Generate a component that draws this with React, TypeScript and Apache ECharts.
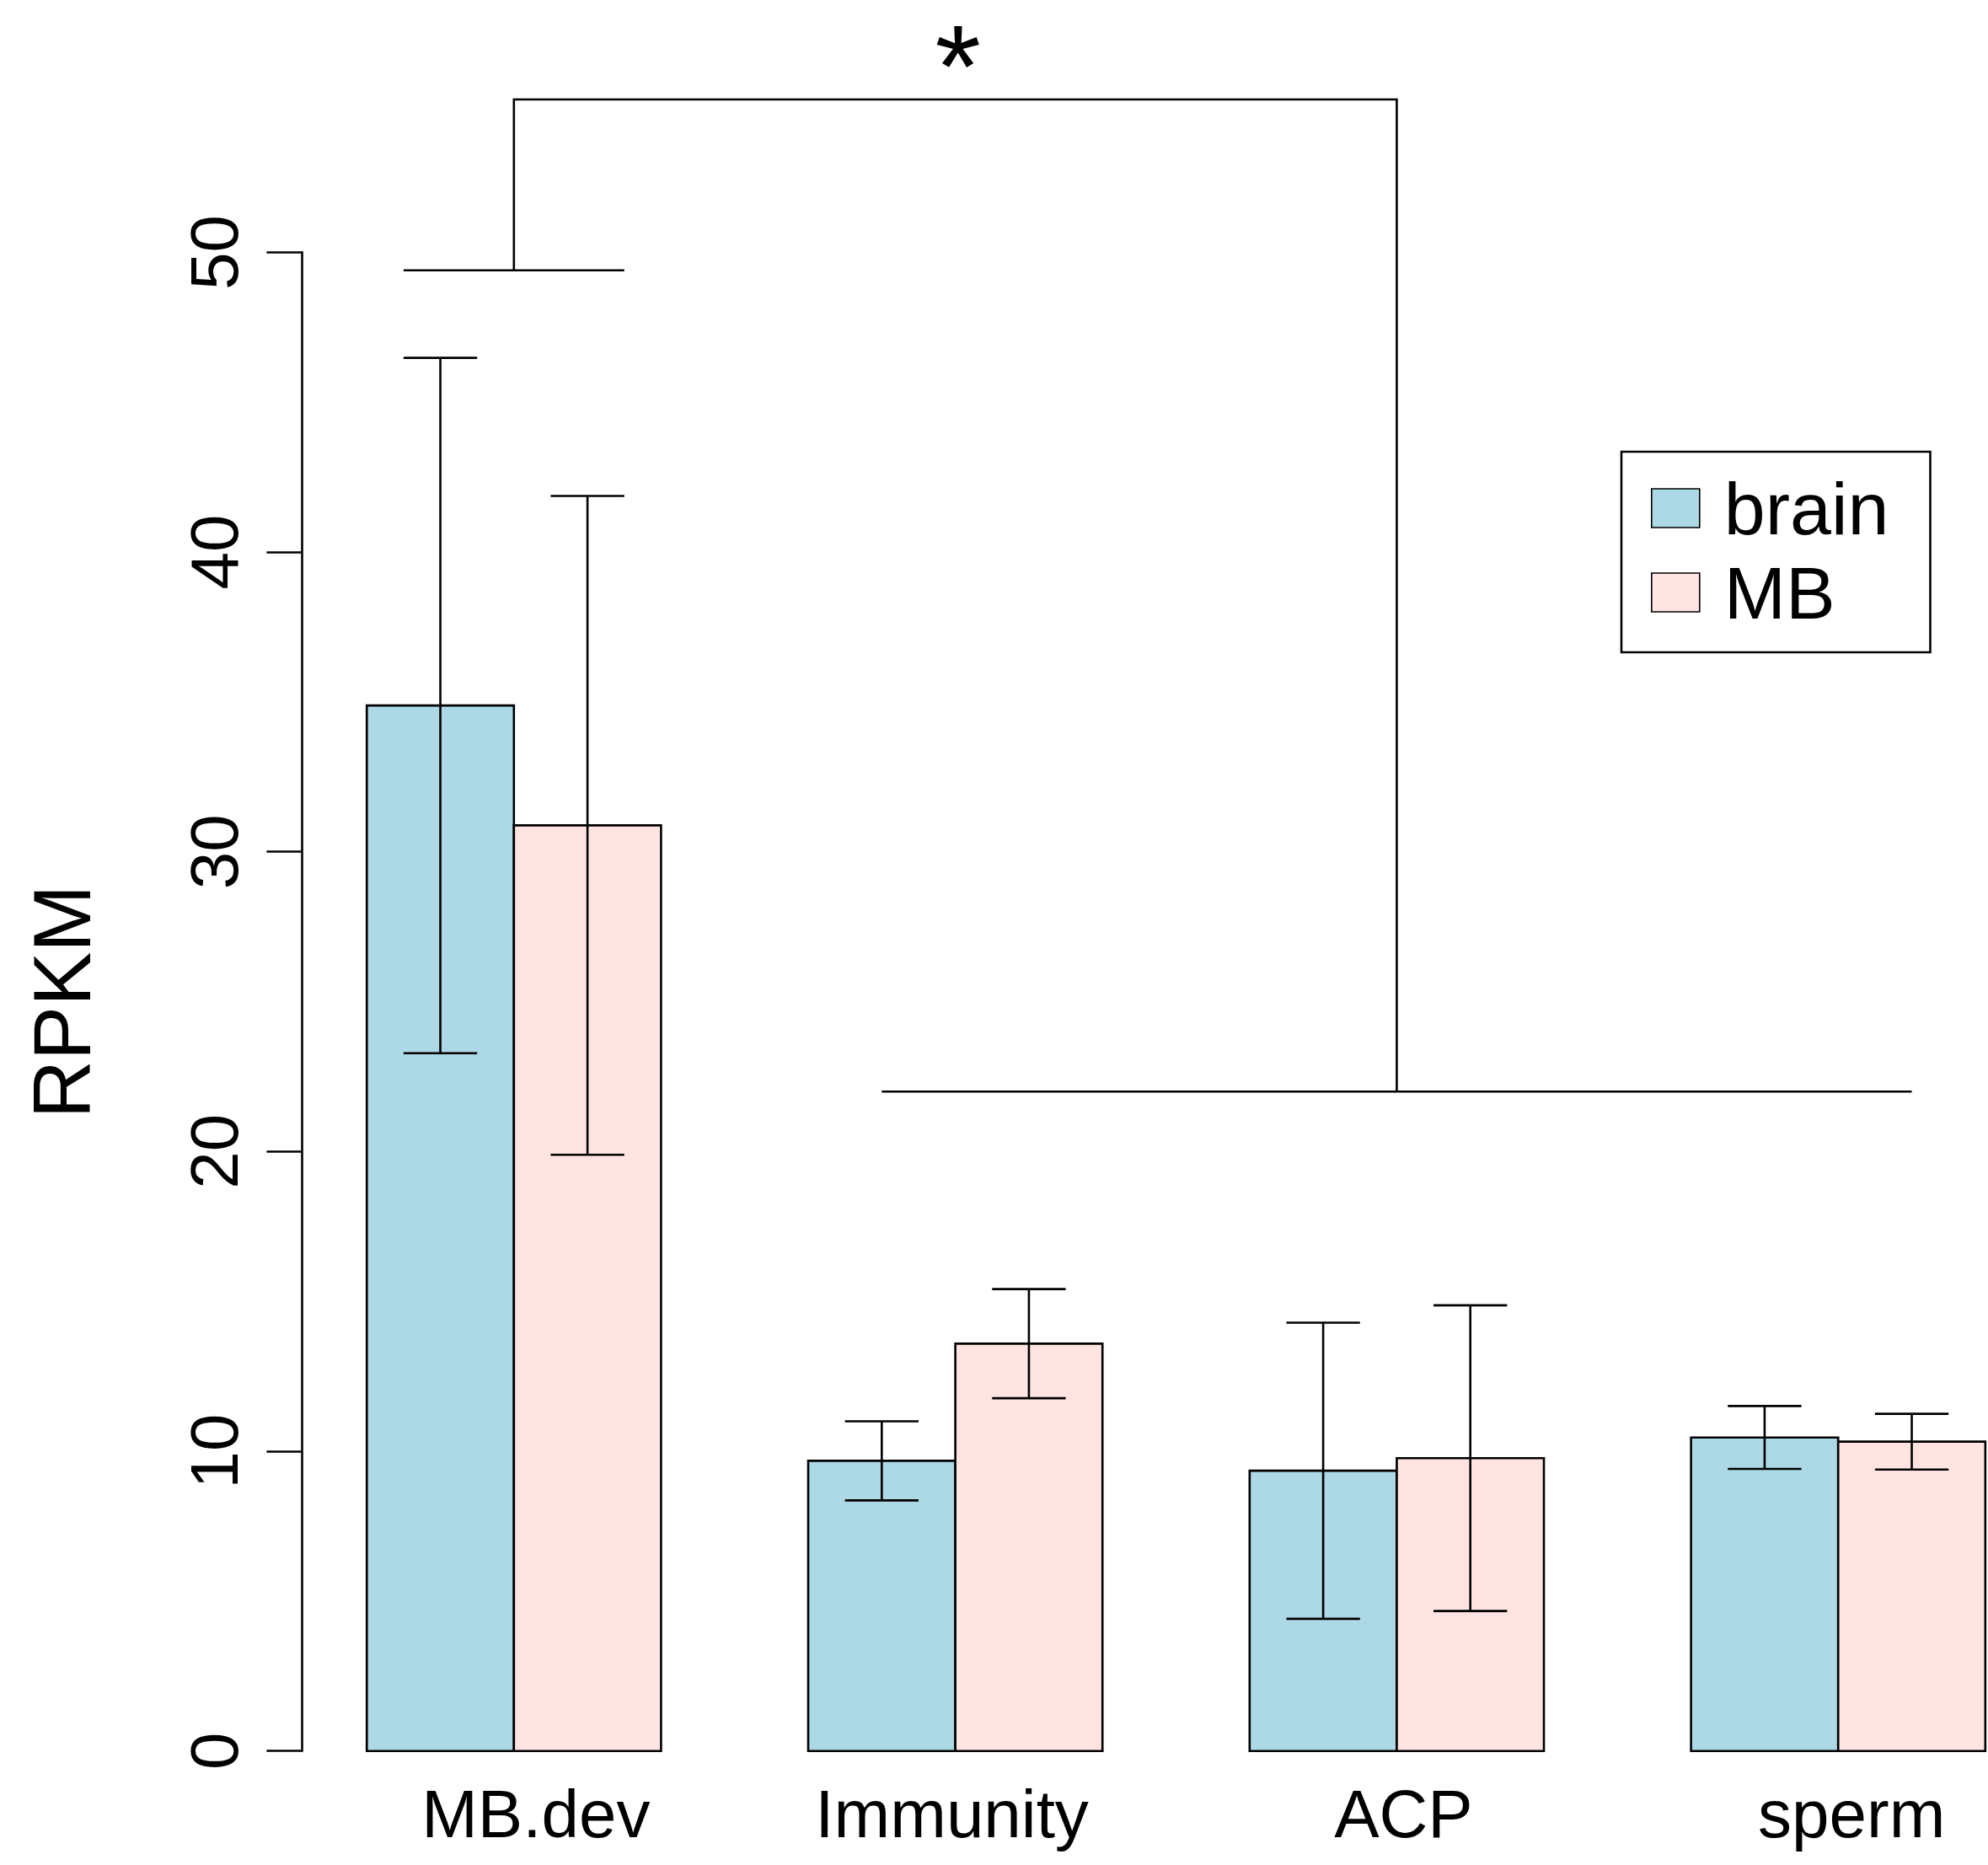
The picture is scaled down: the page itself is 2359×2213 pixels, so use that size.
import React, { useEffect, useRef } from "react";
import * as echarts from "echarts";

// ---- data -------------------------------------------------------------
const groups = ["MB.dev", "Immunity", "ACP", "sperm"];
const tissues = ["brain", "MB"];
const brainMean = [34.88, 9.68, 9.35, 10.46];
const brainErr = [11.6, 1.32, 4.94, 1.05];
const mbMean = [30.88, 13.59, 9.77, 10.32];
const mbErr = [10.99, 1.82, 5.1, 0.93];
const yTicks = [0, 10, 20, 30, 40, 50];
// significance bracket: levels of the two group bars and the joining bar
const bracketLevelA = 49.4;
const bracketLevelB = 22;
const bracketTop = 55.1;
const sigText = "*";

// ---- look ---------------------------------------------------------------
const FONT = "'Liberation Sans', Arial, Helvetica, sans-serif";
const BRAIN = "#ADD8E6"; // lightblue
const MB = "#FFE4E1"; // mistyrose
const LW = 2.6;
// small horizontal nudges (px) of the group names under the bars
const nameNudge = [26, -4, 8, 16];

// barplot layout: unit-width bars, pairs side by side, one unit between groups
const nBars = tissues.length;
const step = nBars + 1;
const barCenter = (g: number, i: number) => 1 + step * g + i + 0.5;
const groupCenter = (g: number) => 1 + step * g + nBars / 2;
const xLo = 1;
const xHi = 1 + step * (groups.length - 1) + nBars;
const pad = 0.04 * (xHi - xLo);
const CAP = 0.25;

function barSeries(name: string, color: string, mean: number[], err: number[], idx: number) {
  return {
    type: "custom",
    name,
    itemStyle: { color },
    clip: false,
    data: mean.map((m, g) => [barCenter(g, idx), m, err[g]]),
    encode: { x: 0, y: 1 },
    renderItem: (_p: any, api: any) => {
      const x = api.value(0);
      const m = api.value(1);
      const e = api.value(2);
      const tl = api.coord([x - 0.5, m]);
      const br = api.coord([x + 0.5, 0]);
      const hi = api.coord([x, m + e]);
      const lo = api.coord([x, m - e]);
      const cl = api.coord([x - CAP, 0])[0];
      const cr = api.coord([x + CAP, 0])[0];
      const ln = { stroke: "#000", lineWidth: LW };
      return {
        type: "group",
        children: [
          {
            type: "rect",
            shape: { x: tl[0], y: tl[1], width: br[0] - tl[0], height: br[1] - tl[1] },
            style: { fill: color, stroke: "#000", lineWidth: LW },
          },
          { type: "line", shape: { x1: hi[0], y1: hi[1], x2: lo[0], y2: lo[1] }, style: ln },
          { type: "line", shape: { x1: cl, y1: hi[1], x2: cr, y2: hi[1] }, style: ln },
          { type: "line", shape: { x1: cl, y1: lo[1], x2: cr, y2: lo[1] }, style: ln },
        ],
      };
    },
  };
}

// bracket comparing MB.dev against the other three groups
const bracketSeries = {
  type: "custom",
  name: "bracket",
  clip: false,
  silent: true,
  data: [[groupCenter(0), bracketTop]],
  encode: { x: 0, y: 1 },
  renderItem: (_p: any, api: any) => {
    const ln = { stroke: "#000", lineWidth: LW, fill: null };
    const aL = api.coord([barCenter(0, 0) - CAP, bracketLevelA]);
    const aR = api.coord([barCenter(0, nBars - 1) + CAP, bracketLevelA]);
    const aStem = api.coord([groupCenter(0), bracketLevelA]);
    const bL = api.coord([barCenter(1, 0), bracketLevelB]);
    const bR = api.coord([barCenter(groups.length - 1, nBars - 1), bracketLevelB]);
    const stemB = (groupCenter(1) + groupCenter(groups.length - 1)) / 2;
    const bStem = api.coord([stemB, bracketLevelB]);
    const tA = api.coord([groupCenter(0), bracketTop]);
    const tB = api.coord([stemB, bracketTop]);
    const mid = api.coord([(groupCenter(0) + stemB) / 2, bracketTop]);
    return {
      type: "group",
      children: [
        { type: "line", shape: { x1: aL[0], y1: aL[1], x2: aR[0], y2: aR[1] }, style: ln },
        { type: "line", shape: { x1: bL[0], y1: bL[1], x2: bR[0], y2: bR[1] }, style: ln },
        {
          type: "polyline",
          shape: { points: [aStem, tA, tB, bStem] },
          style: ln,
        },
        {
          type: "text",
          x: mid[0] + 3,
          y: mid[1] - 40,
          style: {
            text: sigText,
            fontSize: 140,
            fontFamily: FONT,
            fill: "#000",
            align: "center",
            verticalAlign: "middle",
          },
        },
      ],
    };
  },
};

// rich styles that shift each group name sideways by its nudge
const nameRich: Record<string, any> = {};
nameNudge.forEach((n, g) => {
  nameRich["g" + g] = {
    fontSize: 80,
    fontFamily: FONT,
    color: "#000",
    padding: n >= 0 ? [0, 0, 0, 2 * n] : [0, -2 * n, 0, 0],
  };
});

export default function App() {
  const ref = useRef<HTMLDivElement>(null);
  useEffect(() => {
    if (!ref.current) return;
    const chart = echarts.init(ref.current, null, { renderer: "svg" });
    const unit = 174.6;
    const gridLeft = 358.4;
    const y0 = 2077.7;
    const y50 = 299.4;
    chart.setOption({
      animation: false,
      backgroundColor: "#fff",
      grid: {
        left: gridLeft,
        top: y50,
        width: unit * (xHi - xLo + 2 * pad),
        height: y0 - y50,
        containLabel: false,
        outerBoundsMode: "none",
      },
      legend: {
        orient: "vertical",
        left: 1924,
        top: 536,
        padding: [23, 49, 27, 35],
        itemGap: 12,
        itemWidth: 57,
        itemHeight: 46,
        borderColor: "#000",
        borderWidth: LW,
        backgroundColor: "#fff",
        textStyle: {
          fontSize: 88,
          fontFamily: FONT,
          color: "#000",
          padding: [0, 0, 0, 24],
        },
        data: [
          { name: tissues[0], icon: "rect", itemStyle: { color: BRAIN, borderColor: "#000", borderWidth: 1.6 } },
          { name: tissues[1], icon: "rect", itemStyle: { color: MB, borderColor: "#000", borderWidth: 1.6 } },
        ],
      },
      xAxis: {
        type: "value",
        min: xLo - pad,
        max: xHi + pad,
        axisLine: { show: false },
        axisTick: { show: false },
        splitLine: { show: false },
        axisLabel: {
          customValues: groups.map((_, g) => groupCenter(g)),
          formatter: (v: number) => {
            const g = groups.findIndex((_, k) => Math.abs(groupCenter(k) - v) < 1e-6);
            return g >= 0 ? `{g${g}|${groups[g]}}` : "";
          },
          rich: nameRich,
          fontSize: 80,
          fontFamily: FONT,
          color: "#000",
          margin: 35,
        },
      },
      yAxis: {
        type: "value",
        min: yTicks[0],
        max: yTicks[yTicks.length - 1],
        interval: yTicks[1] - yTicks[0],
        name: "RPKM",
        nameLocation: "middle",
        nameRotate: 90,
        nameGap: 237,
        nameTextStyle: { fontSize: 96, fontFamily: FONT, color: "#000" },
        axisLine: { show: true, lineStyle: { color: "#000", width: LW } },
        axisTick: { show: true, length: 42, lineStyle: { color: "#000", width: LW } },
        splitLine: { show: false },
        axisLabel: {
          rotate: 90,
          fontSize: 80,
          fontFamily: FONT,
          color: "#000",
          margin: 64,
        },
      },
      series: [
        barSeries(tissues[0], BRAIN, brainMean, brainErr, 0),
        barSeries(tissues[1], MB, mbMean, mbErr, 1),
        bracketSeries,
      ],
    });
    return () => chart.dispose();
  }, []);
  return (
    <div
      ref={ref}
      style={{ position: "absolute", left: 0, top: 0, width: 2359, height: 2213, background: "#fff" }}
    />
  );
}
